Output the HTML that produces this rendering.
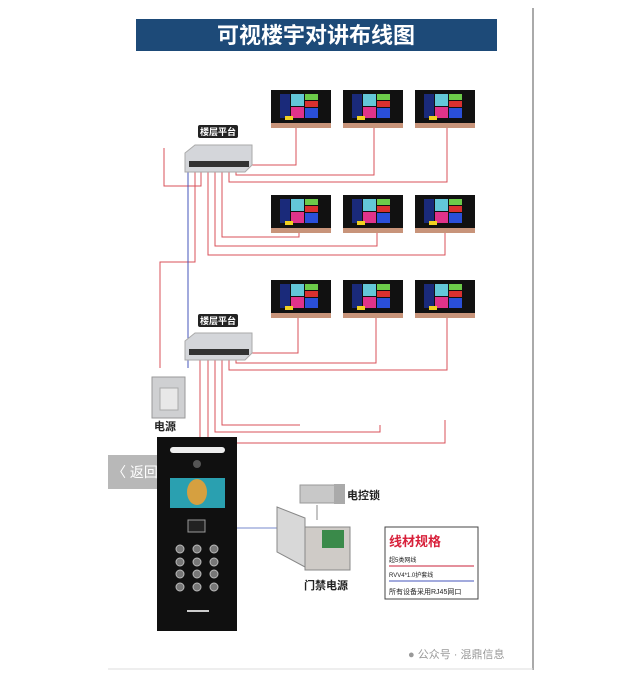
<!DOCTYPE html>
<html><head><meta charset="utf-8"><style>
body{margin:0;background:#fff;}
svg text{font-family:"Liberation Sans","Noto Sans CJK SC",sans-serif;}
</style></head><body>
<svg width="625" height="683" viewBox="0 0 625 683" xmlns="http://www.w3.org/2000/svg">
<defs>
<g id="mon">
<rect x="0" y="0" width="60" height="34" fill="#111"/>
<rect x="0" y="33" width="60" height="5" fill="#c8947a"/>
<rect x="9" y="4" width="10" height="24" fill="#1a2a7a"/>
<rect x="20" y="4" width="13" height="12" fill="#63c7d8"/>
<rect x="20" y="17" width="13" height="11" fill="#e0338a"/>
<rect x="34" y="4" width="13" height="6" fill="#6ccb4a"/>
<rect x="34" y="11" width="13" height="6" fill="#d93030"/>
<rect x="34" y="18" width="13" height="10" fill="#2a4fd8"/>
<rect x="14" y="26" width="8" height="4" fill="#f0d020"/>
</g>
<g id="hub">
<polygon points="0,8 10,0 67,0 67,20 60,27 0,27" fill="#d4d6da" stroke="#aaa"/>
<rect x="4" y="16" width="60" height="6" fill="#333"/>
</g>
</defs>
<rect x="136" y="19" width="361" height="32" fill="#1d4a78"/>
<text x="316" y="43" font-size="22" font-weight="bold" fill="#fff" text-anchor="middle">可视楼宇对讲布线图</text>
<line x1="533" y1="8" x2="533" y2="670" stroke="#555" stroke-width="1"/>
<line x1="108" y1="669" x2="533" y2="669" stroke="#ddd" stroke-width="1"/>

<use href="#mon" x="271" y="90"/><use href="#mon" x="343" y="90"/><use href="#mon" x="415" y="90"/>
<use href="#mon" x="271" y="195"/><use href="#mon" x="343" y="195"/><use href="#mon" x="415" y="195"/>
<use href="#mon" x="271" y="280"/><use href="#mon" x="343" y="280"/><use href="#mon" x="415" y="280"/>

<g fill="none" stroke="#d9505a" stroke-width="1">
<polyline points="250,165 296,165 296,128"/>
<polyline points="236,172 236,175 374,175 374,128"/>
<polyline points="229,172 229,182 447,182 447,128"/>
<polyline points="222,172 222,237 299,237 299,233"/>
<polyline points="215,172 215,246 377,246 377,233"/>
<polyline points="208,172 208,255 445,255 445,233"/>
<polyline points="201,172 201,186 164,186 164,148"/>
<polyline points="195,172 195,262 160,262 160,368"/>
<polyline points="250,353 298,353 298,318"/>
<polyline points="236,360 236,363 376,363 376,318"/>
<polyline points="229,360 229,370 447,370 447,318"/>
<polyline points="222,360 222,425 300,425"/>
<polyline points="215,360 215,432 380,432 380,425"/>
<polyline points="208,360 208,443 445,443 445,420"/>
<polyline points="200,360 200,440"/>
</g>
<line x1="188" y1="172" x2="188" y2="368" stroke="#4455bb" stroke-width="1"/>
<line x1="237" y1="528" x2="280" y2="528" stroke="#7788cc" stroke-width="1"/>
<line x1="317" y1="505" x2="317" y2="520" stroke="#888" stroke-width="1"/>

<use href="#hub" x="185" y="145"/>
<use href="#hub" x="185" y="333"/>
<rect x="198" y="125" width="40" height="13" rx="2" fill="#222"/>
<text x="218" y="135" font-size="9" fill="#fff" text-anchor="middle" font-weight="bold">楼层平台</text>
<rect x="198" y="314" width="40" height="13" rx="2" fill="#222"/>
<text x="218" y="324" font-size="9" fill="#fff" text-anchor="middle" font-weight="bold">楼层平台</text>

<rect x="152" y="377" width="33" height="41" fill="#cfd0d2" stroke="#999"/>
<rect x="160" y="388" width="18" height="22" fill="#e8e8e8" stroke="#aaa"/>
<text x="165" y="430" font-size="11" font-weight="bold" fill="#222" text-anchor="middle">电源</text>

<rect x="108" y="455" width="49" height="34" fill="#b8b8b8"/>
<text x="112" y="477" font-size="14" fill="#fff">〈 返回</text>

<rect x="157" y="437" width="80" height="194" fill="#101010"/>
<rect x="170" y="447" width="55" height="6" rx="3" fill="#eee"/>
<circle cx="197" cy="464" r="4" fill="#555"/>
<rect x="170" y="478" width="55" height="30" fill="#2aa0b0"/>
<ellipse cx="197" cy="492" rx="10" ry="13" fill="#d6a040"/>
<rect x="188" y="520" width="17" height="12" fill="#222" stroke="#999"/>
<g fill="#777" stroke="#bbb">
<circle cx="180" cy="549" r="4"/><circle cx="197" cy="549" r="4"/><circle cx="214" cy="549" r="4"/>
<circle cx="180" cy="562" r="4"/><circle cx="197" cy="562" r="4"/><circle cx="214" cy="562" r="4"/>
<circle cx="180" cy="574" r="4"/><circle cx="197" cy="574" r="4"/><circle cx="214" cy="574" r="4"/>
<circle cx="180" cy="587" r="4"/><circle cx="197" cy="587" r="4"/><circle cx="214" cy="587" r="4"/>
</g>
<rect x="187" y="610" width="22" height="2" fill="#ccc"/>

<rect x="300" y="485" width="35" height="18" fill="#c8c8c8" stroke="#999"/>
<rect x="334" y="484" width="11" height="20" fill="#aaa"/>
<text x="347" y="499" font-size="11" font-weight="bold" fill="#222">电控锁</text>
<polygon points="277,507 305,518 305,567 277,552" fill="#d8d8d8" stroke="#888"/>
<rect x="305" y="527" width="45" height="43" fill="#cfcbc7" stroke="#888"/>
<rect x="322" y="530" width="22" height="18" fill="#3a8a4a"/>
<text x="326" y="589" font-size="11" font-weight="bold" fill="#222" text-anchor="middle">门禁电源</text>

<rect x="385" y="527" width="93" height="72" fill="#fff" stroke="#444"/>
<text x="389" y="546" font-size="13" font-weight="bold" fill="#d8203a">线材规格</text>
<text x="389" y="562" font-size="6" fill="#222">超5类网线</text>
<line x1="389" y1="566" x2="474" y2="566" stroke="#c8203a" stroke-width="1"/>
<text x="389" y="577" font-size="6" fill="#222">RVV4*1.0护套线</text>
<line x1="389" y1="581" x2="474" y2="581" stroke="#4455bb" stroke-width="1"/>
<text x="389" y="594" font-size="7" fill="#222">所有设备采用RJ45网口</text>

<text x="408" y="658" font-size="11" fill="#999">● 公众号 · 混鼎信息</text>
</svg>
</body></html>
